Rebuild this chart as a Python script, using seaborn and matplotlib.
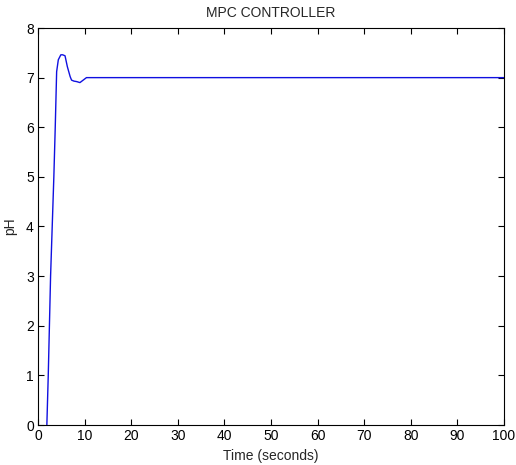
import matplotlib
matplotlib.use("Agg")
import matplotlib.pyplot as plt
import seaborn as sns
import pandas as pd

time_s = [1.9, 2.2, 2.7, 3.4, 3.7, 4.0, 4.36, 4.9, 5.3, 5.8, 6.3, 6.9, 7.2, 7.7, 8.3, 9.0, 9.7, 10.4, 12.0, 100.0]
ph = [0.0, 1.0, 3.0, 5.0, 6.0, 7.12, 7.36, 7.46, 7.46, 7.44, 7.22, 7.02, 6.95, 6.93, 6.92, 6.90, 6.95, 7.0, 7.0, 7.0]
x_ticks = [0, 10, 20, 30, 40, 50, 60, 70, 80, 90, 100]
y_ticks = [0, 1, 2, 3, 4, 5, 6, 7, 8]

df = pd.DataFrame({"Time (seconds)": time_s, "pH": ph})

sns.set_style("ticks")
plt.rcParams["font.family"] = ["Liberation Sans", "DejaVu Sans"]

fig = plt.figure(figsize=(5.16, 4.65), dpi=100)
ax = fig.add_axes([38/516, 40/465, (504-38)/516, (425-28)/465])
sns.lineplot(data=df, x="Time (seconds)", y="pH", ax=ax, color="#1010e0",
             linewidth=1.0, estimator=None, sort=False)
ax.set_xlim(0, 100)
ax.set_ylim(0, 8)
ax.set_xticks(x_ticks)
ax.set_yticks(y_ticks)
ax.tick_params(direction="in", top=True, right=True, length=4, width=0.8,
               labelsize=10, pad=3, colors="black")
for s in ax.spines.values():
    s.set_visible(True)
    s.set_linewidth(0.8)
    s.set_color("black")
ax.set_xlabel("Time (seconds)", fontsize=10, labelpad=4)
ax.set_ylabel("pH", fontsize=10, labelpad=6)
ax.set_title("MPC CONTROLLER", fontsize=10, pad=8)
fig.savefig("out.png", dpi=100)
